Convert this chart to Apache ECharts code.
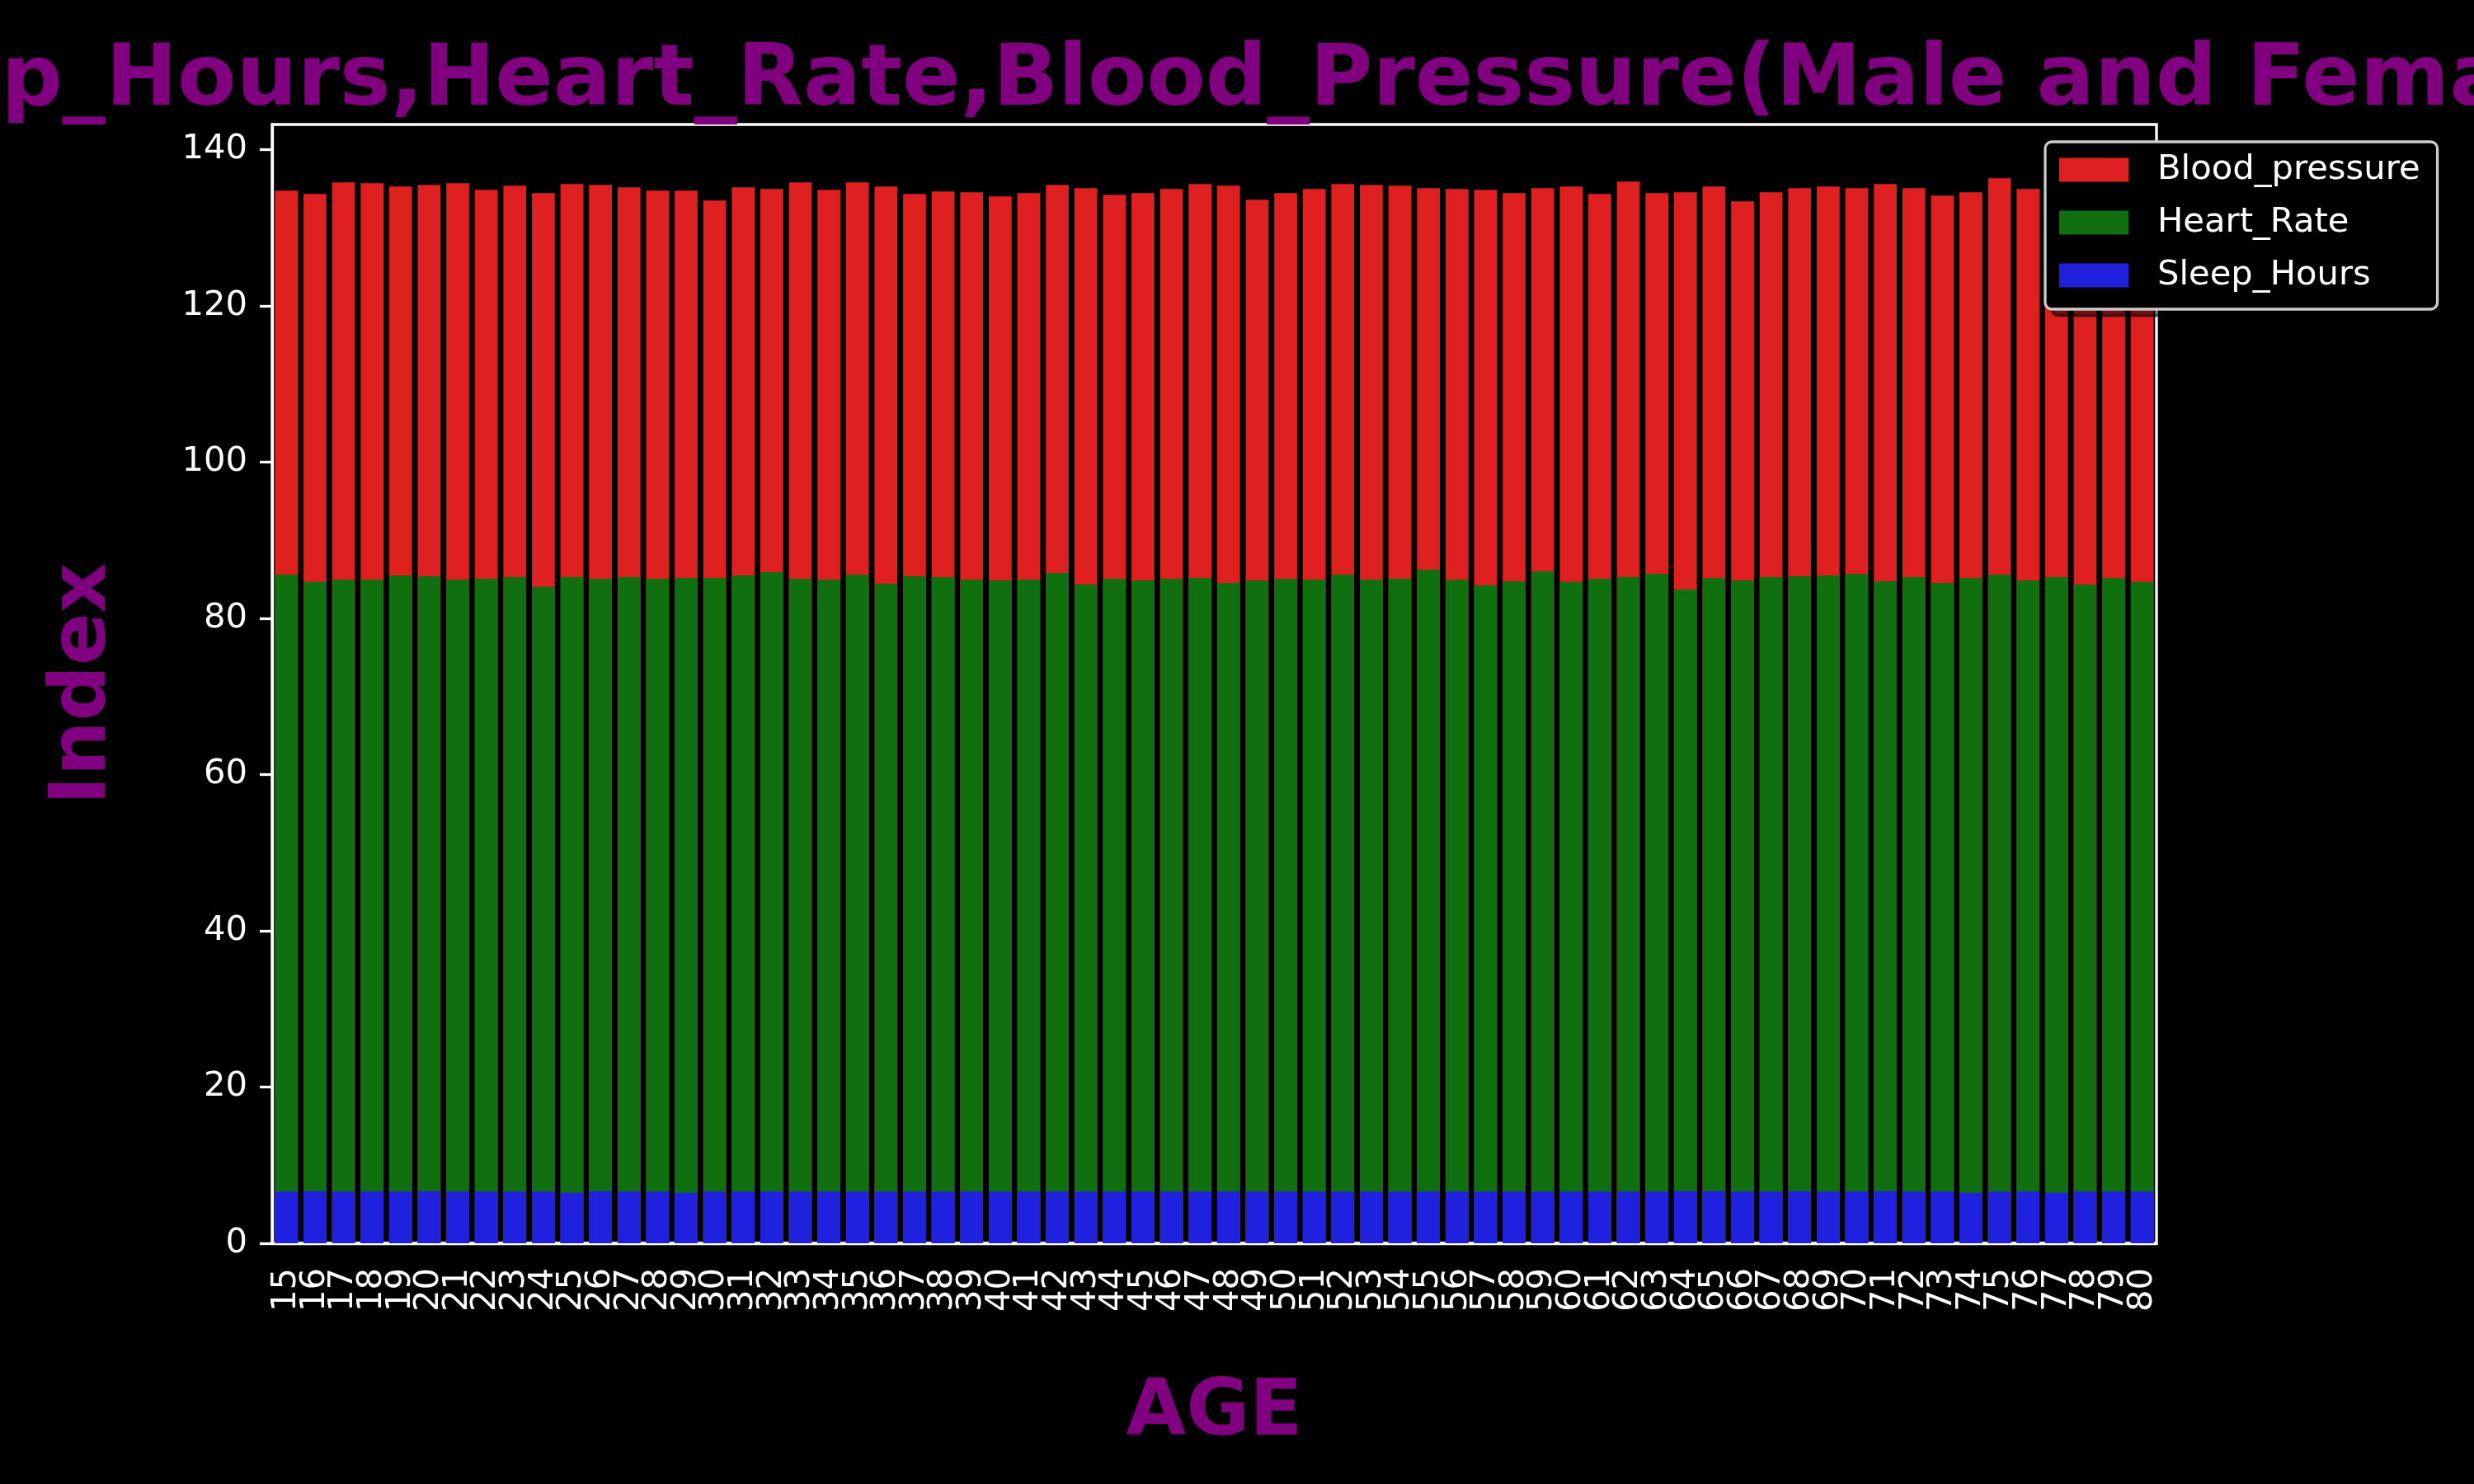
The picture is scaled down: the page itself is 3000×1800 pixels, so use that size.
<!DOCTYPE html>
<html>
<head>
<meta charset="utf-8">
<script src="https://cdn.jsdelivr.net/npm/echarts@6/dist/echarts.min.js"></script>
<style>
    html, body { margin: 0; padding: 0; background: #000; }
    #chart { width: 3000px; height: 1800px; }
</style>
</head>
<body>
<div id="chart"></div>
<script>
var ages = ['15','16','17','18','19','20','21','22','23','24','25','26','27','28','29','30','31','32','33','34','35','36',
    '37','38','39','40','41','42','43','44','45','46','47','48','49','50','51','52','53','54','55','56','57','58',
    '59','60','61','62','63','64','65','66','67','68','69','70','71','72','73','74','75','76','77','78','79','80'];

var bloodPressure = [134.74, 134.31, 135.79, 135.69, 135.26, 135.48, 135.69, 134.84, 135.37, 134.42, 135.58, 135.48,
    135.16, 134.74, 134.74, 133.47, 135.16, 134.95, 135.79, 134.84, 135.79, 135.26, 134.31, 134.63, 134.53, 134.0,
    134.42, 135.48, 135.05, 134.21, 134.42, 134.95, 135.58, 135.37, 133.58, 134.42, 134.95, 135.58, 135.48, 135.37,
    135.05, 134.95, 134.84, 134.42, 135.05, 135.26, 134.31, 135.9, 134.42, 134.53, 135.26, 133.37, 134.53, 135.05,
    135.26, 135.05, 135.58, 135.05, 134.1, 134.53, 136.32, 134.95, 135.0, 134.5, 135.2, 134.8];

var heartRate = [85.58, 84.67, 84.95, 84.95, 85.48, 85.37, 84.95, 85.05, 85.26, 84.03, 85.26, 85.05,
    85.26, 85.05, 85.16, 85.16, 85.48, 85.9, 85.05, 84.95, 85.58, 84.42, 85.37, 85.26, 84.95, 84.84,
    84.95, 85.79, 84.32, 85.05, 84.84, 85.05, 85.16, 84.53, 84.84, 85.05, 84.95, 85.58, 84.95, 85.05,
    86.21, 84.95, 84.21, 84.74, 86.0, 84.67, 85.05, 85.26, 85.69, 83.68, 85.16, 84.84, 85.26, 85.37,
    85.48, 85.69, 84.74, 85.26, 84.53, 85.16, 85.58, 84.84, 85.26, 84.32, 85.16, 84.67];

var sleepHours = [6.61, 6.68, 6.61, 6.61, 6.61, 6.68, 6.61, 6.61, 6.61, 6.61, 6.47, 6.68,
    6.61, 6.61, 6.47, 6.61, 6.61, 6.61, 6.61, 6.61, 6.61, 6.61, 6.61, 6.61, 6.61, 6.61,
    6.61, 6.61, 6.61, 6.61, 6.61, 6.61, 6.61, 6.61, 6.61, 6.61, 6.61, 6.61, 6.61, 6.61,
    6.61, 6.61, 6.61, 6.61, 6.61, 6.61, 6.61, 6.61, 6.61, 6.68, 6.68, 6.61, 6.61, 6.68,
    6.61, 6.61, 6.68, 6.61, 6.61, 6.47, 6.61, 6.61, 6.47, 6.61, 6.61, 6.61];

var yTicks = [0, 20, 40, 60, 80, 100, 120, 140];

var chart = echarts.init(document.getElementById('chart'));

var font = 'DejaVu Sans';
var lineW = 3.3;

var option = {
    animation: false,
    backgroundColor: '#000',
    title: {
        text: 'Sleep_Hours,Heart_Rate,Blood_Pressure(Male and Female)',
        left: 1472,
        top: 48,
        padding: 0,
        textAlign: 'center',
        textStyle: {
            color: '#800080',
            fontFamily: font,
            fontWeight: 'bold',
            fontSize: 104,
            lineHeight: 104
        }
    },
    legend: {
        data: ['Blood_pressure', 'Heart_Rate', 'Sleep_Hours'],
        orient: 'vertical',
        left: 2480,
        top: 172,
        padding: [13, 21, 20, 17],
        itemGap: 22,
        itemWidth: 84,
        itemHeight: 29,
        icon: 'rect',
        backgroundColor: '#000',
        borderColor: '#cccccc',
        borderWidth: lineW,
        borderRadius: 8,
        shadowColor: 'rgba(0,0,0,0.5)',
        shadowBlur: 0,
        shadowOffsetX: 8,
        shadowOffsetY: 8,
        textStyle: {
            color: '#fff',
            fontFamily: font,
            fontSize: 41.7,
            lineHeight: 42,
            padding: [0, 0, 0, 30]
        }
    },
    grid: {
        left: 330,
        top: 151,
        width: 2285,
        height: 1357,
        show: true,
        borderColor: '#fff',
        borderWidth: lineW,
        backgroundColor: 'transparent'
    },
    xAxis: {
        type: 'category',
        data: ages,
        name: 'AGE',
        nameLocation: 'middle',
        nameGap: 161,
        nameTextStyle: {
            color: '#800080',
            fontFamily: font,
            fontWeight: 'bold',
            fontSize: 94,
            lineHeight: 94
        },
        axisLine: { lineStyle: { color: '#fff', width: lineW } },
        axisTick: { alignWithLabel: true, interval: 0, length: 15, lineStyle: { color: '#fff', width: lineW } },
        axisLabel: {
            interval: 0,
            rotate: 90,
            margin: 30,
            color: '#fff',
            fontFamily: font,
            fontSize: 41.7
        },
        splitLine: { show: false }
    },
    yAxis: {
        type: 'value',
        min: 0,
        max: 143.2,
        interval: 20,
        name: 'Index',
        nameLocation: 'middle',
        nameRotate: 90,
        nameGap: 180,
        nameTextStyle: {
            color: '#800080',
            fontFamily: font,
            fontWeight: 'bold',
            fontSize: 94,
            lineHeight: 94
        },
        axisLine: { show: true, lineStyle: { color: '#fff', width: lineW } },
        axisTick: { show: true, length: 15, customValues: yTicks, lineStyle: { color: '#fff', width: lineW } },
        axisLabel: {
            customValues: yTicks,
            margin: 30,
            color: '#fff',
            fontFamily: font,
            fontSize: 41.7
        },
        splitLine: { show: false }
    },
    series: [
        {
            name: 'Blood_pressure',
            type: 'bar',
            data: bloodPressure,
            barWidth: '80%',
            barGap: '-100%',
            itemStyle: { color: '#df2020' }
        },
        {
            name: 'Heart_Rate',
            type: 'bar',
            data: heartRate,
            barWidth: '80%',
            barGap: '-100%',
            itemStyle: { color: '#107010' }
        },
        {
            name: 'Sleep_Hours',
            type: 'bar',
            data: sleepHours,
            barWidth: '80%',
            barGap: '-100%',
            itemStyle: { color: '#2020df' }
        }
    ]
};

chart.setOption(option);
</script>
</body>
</html>
